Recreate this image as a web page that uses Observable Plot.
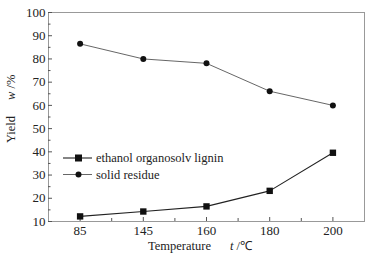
<!DOCTYPE html>
<html><head><meta charset="utf-8">
<script src="https://cdn.jsdelivr.net/npm/d3@7"></script>
<script src="https://cdn.jsdelivr.net/npm/@observablehq/plot@0.6"></script>
<style>body{margin:0;background:#fff} svg text{font-family:"Liberation Serif","Times New Roman",serif !important}</style>
</head><body><div id="chart"></div>
<script>
const temperatures = ["85", "145", "160", "180", "200"];
const ligninYield = [12.2, 14.3, 16.5, 23.2, 39.6];
const residueYield = [86.5, 80.0, 78.1, 66.1, 60.0];
const yMajorTicks = [10, 20, 30, 40, 50, 60, 70, 80, 90, 100];
const yMinorTicks = [15, 25, 35, 45, 55, 65, 75, 85, 95];
const seriesNames = ["ethanol organosolv lignin", "solid residue"];

const idx = temperatures.map((_, i) => i);
const xMinor = temperatures.slice(0, -1).map((_, i) => i + 0.5);
const lignin = temperatures.map((t, i) => ({i, t, v: ligninYield[i]}));
const residue = temperatures.map((t, i) => ({i, t, v: residueYield[i]}));

const font = '"Liberation Serif", "Times New Roman", serif';
const plot = Plot.plot({
  width: 377, height: 256,
  marginLeft: 48, marginRight: 13, marginTop: 12, marginBottom: 35,
  style: {fontFamily: font, fontSize: "13px", color: "#222", background: "#fff"},
  x: {type: "linear", domain: [-0.5, 4.5], label: null},
  y: {domain: [10, 100], label: null},
  marks: [
    Plot.frame({stroke: "#999", strokeWidth: 1}),
    Plot.axisX({ticks: idx, tickFormat: i => temperatures[i], tickSize: -4, tickPadding: 8, stroke: "#555", fontSize: 13}),
    Plot.axisX({ticks: xMinor, text: null, tickSize: -3, stroke: "#555"}),
    Plot.axisY({ticks: yMajorTicks, tickSize: -4, tickPadding: 7, stroke: "#555", fontSize: 13}),
    Plot.axisY({ticks: yMinorTicks, text: null, tickSize: -2.5, stroke: "#555"}),
    Plot.line(residue, {x: "i", y: "v", stroke: "#555", strokeWidth: 0.9}),
    Plot.dot(residue, {x: "i", y: "v", r: 3, fill: "#111", stroke: "none"}),
    Plot.line(lignin, {x: "i", y: "v", stroke: "#222", strokeWidth: 1.1}),
    Plot.dot(lignin, {x: "i", y: "v", symbol: "square", r: 3.6, fill: "#111", stroke: "none"})
  ]
});
document.getElementById("chart").appendChild(plot);

const svg = d3.select(plot);
// Axis titles
const xt = svg.append("text").attr("x", 148).attr("y", 250).attr("text-anchor", "start")
  .attr("font-size", 12.5).attr("fill", "#222");
xt.append("tspan").text("Temperature");
xt.append("tspan").attr("x", 230).attr("font-style", "italic").text("t");
xt.append("tspan").text(" /℃");

const yt = svg.append("text").attr("transform", "translate(15,143) rotate(-90)").attr("text-anchor", "start")
  .attr("font-size", 12.5).attr("fill", "#222");
yt.append("tspan").text("Yield");
yt.append("tspan").attr("dx", 16).attr("font-style", "italic").text("w");
yt.append("tspan").text(" /%");

// Legend
const leg = svg.append("g").attr("font-size", 12.5).attr("fill", "#222").attr("text-anchor", "start");
seriesNames.forEach((name, k) => {
  const y = 158 + k * 16.5;
  leg.append("line").attr("x1", 63).attr("x2", 92).attr("y1", y).attr("y2", y)
    .attr("stroke", k === 0 ? "#222" : "#555").attr("stroke-width", k === 0 ? 1.1 : 0.9);
  if (k === 0) leg.append("rect").attr("x", 75).attr("y", y - 3.5).attr("width", 7).attr("height", 7).attr("fill", "#111");
  else leg.append("circle").attr("cx", 78.5).attr("cy", y).attr("r", 3).attr("fill", "#111");
  leg.append("text").attr("x", 96).attr("y", y).attr("dy", "0.35em").text(name);
});
</script></body></html>
